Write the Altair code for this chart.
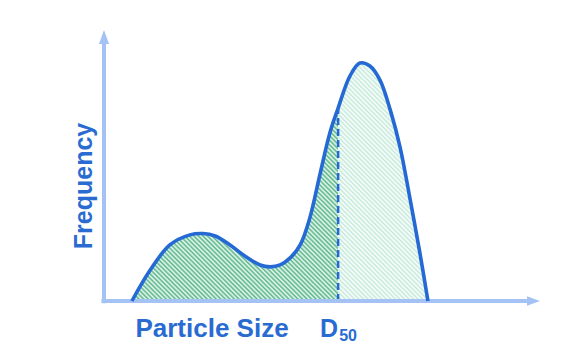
import math
import altair as alt
import pandas as pd

# ---- data ----
size = [6.4, 10.6, 15.1, 19.7, 22.7, 25.5, 28.9, 32.3, 35.8, 38.1, 40.4, 42.7, 45.0,
        47.2, 49.5, 51.8, 53.7, 56.4, 58.7, 61.0, 63.3, 65.6, 67.9, 70.2, 72.5, 74.3]
freq = [0.0, 11.4, 20.7, 24.4, 24.9, 24.0, 20.7, 16.6, 13.3, 12.6, 13.3, 15.9, 20.7,
        30.6, 46.5, 62.0, 71.2, 83.0, 87.8, 86.7, 81.5, 70.8, 56.8, 37.6, 17.3, 0.0]
d50 = 53.7
d50_freq = 71.2

x_label = "Particle Size"
y_label = "Frequency"

BLUE = "#2469d4"
TEXT = "#2a6bd2"
AXIS = "#a4c2f4"
FONT = "Liberation Sans"

df = pd.DataFrame({"size": size, "freq": freq})
left = df[df["size"] <= d50]
right = df[df["size"] >= d50]

xs = alt.Scale(domain=[0, 100], nice=False, zero=False)
ys = alt.Scale(domain=[0, 100], nice=False, zero=False)
X = lambda f="size": alt.X(f, type="quantitative", scale=xs, axis=None)
Y = lambda f="freq": alt.Y(f, type="quantitative", scale=ys, axis=None)

INTERP = "catmull-rom"


def hatch(w, h, period, c_line, c_bg):
    """Diagonal stripe fill as a many-stop linear gradient (style only)."""
    k = (w + h) / (w * w + h * h)
    n = int(round((w + h) / math.sqrt(2) / period))
    stops = []
    for i in range(n):
        stops += [
            {"offset": i / n, "color": c_line},
            {"offset": (i + 0.5) / n, "color": c_bg},
        ]
    stops.append({"offset": 1, "color": c_line})
    return alt.Gradient(gradient="linear", x1=0, y1=1, x2=k * w, y2=1 - k * h, stops=stops)


area_left = alt.Chart(left).mark_area(
    interpolate=INTERP,
    fill=hatch(206, 193, 3.2, "#56b588", "#eef9f3"),
).encode(x=X(), y=Y())

area_right = alt.Chart(right).mark_area(
    interpolate=INTERP,
    fill=hatch(90, 238, 3.2, "#c2e9d9", "#ffffff"),
).encode(x=X(), y=Y())

dline = alt.Chart(pd.DataFrame({"size": [d50], "y0": [0.0], "y1": [d50_freq]})).mark_rule(
    color=BLUE, strokeWidth=2.5, strokeDash=[7, 4]
).encode(x=X(), y=Y("y0"), y2="y1")

axes_df = pd.DataFrame({"x0": [-0.6, 0.0], "x1": [97.0, 0.0], "y0": [0.0, -0.8], "y1": [0.0, 95.0]})
axes = alt.Chart(axes_df).mark_rule(color=AXIS, strokeWidth=4).encode(
    x=X("x0"), x2="x1", y=Y("y0"), y2="y1"
)

arrow_x = alt.Chart(pd.DataFrame({"size": [100.0], "freq": [0.0]})).mark_point(
    shape="M0,0L-2,-0.72L-2,0.72Z", size=169, filled=True, fill=AXIS, opacity=1, strokeWidth=0
).encode(x=X(), y=Y())
arrow_y = alt.Chart(pd.DataFrame({"size": [0.0], "freq": [100.0]})).mark_point(
    shape="M0,0L0.72,2L-0.72,2Z", size=196, filled=True, fill=AXIS, opacity=1, strokeWidth=0
).encode(x=X(), y=Y())

curve = alt.Chart(df).mark_line(
    interpolate=INTERP, color=BLUE, strokeWidth=3.6, strokeCap="butt", strokeJoin="round"
).encode(x=X(), y=Y())

one = pd.DataFrame({"a": [0]})
t_x = alt.Chart(one).mark_text(
    text=x_label, font=FONT, fontSize=26, fontWeight="bold", color=TEXT,
    align="center", baseline="alphabetic"
).encode(x=alt.value(108), y=alt.value(306.5))
t_y = alt.Chart(one).mark_text(
    text=y_label, font=FONT, fontSize=25, fontWeight="bold", color=TEXT,
    align="center", baseline="alphabetic", angle=270
).encode(x=alt.value(-12.5), y=alt.value(156))

dd = pd.DataFrame({"size": [d50]})
t_d = alt.Chart(dd).mark_text(
    text="D", font=FONT, fontSize=25, fontWeight="bold", color=TEXT,
    align="right", baseline="alphabetic", dx=0
).encode(x=X(), y=alt.value(306.5))
t_50 = alt.Chart(dd).mark_text(
    text="50", font=FONT, fontSize=16, fontWeight="bold", color=TEXT,
    align="left", baseline="alphabetic", dx=1
).encode(x=X(), y=alt.value(310.5))

chart = alt.layer(
    area_left, area_right, dline, axes, arrow_x, arrow_y, curve, t_x, t_y, t_d, t_50
).properties(
    width=436, height=271,
    padding={"left": 104, "top": 30, "right": 33, "bottom": 58},
    autosize="none",
).configure_view(stroke=None)

chart.save("out.html", embed_options={"renderer": "svg", "actions": False})
